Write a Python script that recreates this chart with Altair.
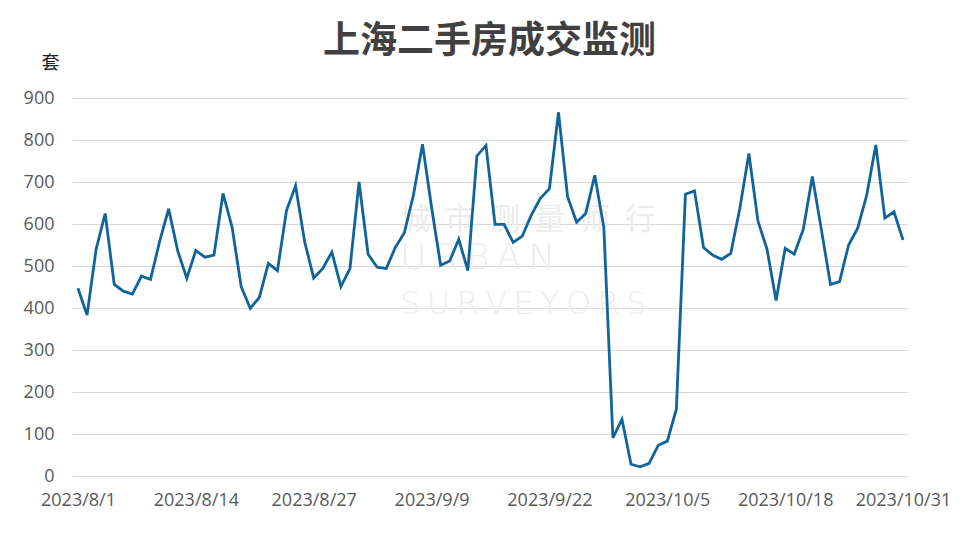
import altair as alt
import pandas as pd

# daily transactions, 2023/8/1 .. 2023/10/31
values = [447, 383, 540, 625, 456, 440, 433, 476, 468, 558,
          636, 536, 471, 537, 521, 526, 673, 592, 451, 399,
          425, 506, 489, 632, 691, 558, 471, 494, 533, 451,
          494, 700, 528, 497, 494, 544, 579, 669, 790, 640,
          502, 512, 564, 489, 762, 787, 599, 599, 556, 571,
          621, 661, 684, 866, 665, 604, 625, 716, 592, 91,
          135, 28, 22, 30, 73, 83, 159, 671, 679, 544,
          526, 516, 530, 637, 768, 607, 540, 418, 542, 528,
          587, 713, 586, 456, 463, 550, 590, 669, 788, 614,
          629, 562]
dates = [f"{d.year}/{d.month}/{d.day}" for d in pd.date_range("2023-08-01", "2023-10-31")]
tick_idx = [0, 13, 26, 39, 52, 65, 78, 91]
tick_labels = ["2023/8/1", "2023/8/14", "2023/8/27", "2023/9/9",
               "2023/9/22", "2023/10/5", "2023/10/18", "2023/10/31"]
y_ticks = [0, 100, 200, 300, 400, 500, 600, 700, 800, 900]

df = pd.DataFrame({"i": list(range(len(values))), "date": dates, "v": values})

label_arr = "[" + ",".join(f"'{t}'" for t in tick_labels) + "]"

FONT = "Open Sans"
W, H = 835, 378

line = alt.Chart(df).mark_line(color="#10649a", strokeWidth=2.8).encode(
    x=alt.X("i:Q",
            scale=alt.Scale(domain=[-0.66, 91.44], nice=False, zero=False),
            axis=alt.Axis(values=tick_idx, labelExpr=f"{label_arr}[round(datum.value/13)]",
                          grid=False, domain=False, ticks=False, labelFlush=False,
                          labelOverlap=False, labelFontSize=18, labelColor="#595959",
                          labelFont=FONT, labelPadding=15, title=None)),
    y=alt.Y("v:Q",
            scale=alt.Scale(domain=[0, 900], nice=False),
            axis=alt.Axis(values=y_ticks, grid=True, gridColor="#d9d9d9", gridWidth=1,
                          domain=False, ticks=False, labelFontSize=18, labelColor="#595959",
                          labelFont=FONT, labelPadding=18,
                          title="套", titleAngle=0, titleFont="Noto Sans CJK SC",
                          titleFontSize=18, titleFontWeight="normal", titleColor="#222222",
                          titleX=-22, titleY=-35, titleAlign="center", titleBaseline="middle")),
)

sp = "\u2002"
th = "\u2009"
wm_cn = alt.Chart(pd.DataFrame({"t": [sp.join("城市测量师行")]})).mark_text(
    font="Noto Sans CJK SC", fontSize=30, color="#ececec", align="left", baseline="middle"
).encode(text="t:N", x=alt.value(328), y=alt.value(122))
wm_en1 = alt.Chart(pd.DataFrame({"t": [th.join("URBAN")]})).mark_text(
    font="DejaVu Sans", fontSize=36, color="#ececec", align="left", baseline="middle",
    fontWeight="lighter"
).encode(text="t:N", x=alt.value(328), y=alt.value(160))
wm_en2 = alt.Chart(pd.DataFrame({"t": [th.join("SURVEYORS")]})).mark_text(
    font="DejaVu Sans", fontSize=32, color="#ececec", align="left", baseline="middle",
    fontWeight="lighter"
).encode(text="t:N", x=alt.value(328), y=alt.value(206))

chart = alt.layer(wm_cn, wm_en1, wm_en2, line).properties(
    width=W, height=H,
    autosize=alt.AutoSizeParams(type="none"),
    padding={"left": 64, "top": 90, "right": 60, "bottom": 52},
    title=alt.TitleParams("上海二手房成交监测", font="Noto Sans CJK SC", fontSize=37,
                          fontWeight="bold", color="#404040", anchor="middle", offset=-7),
).configure(background="white").configure_view(stroke=None)

chart.save("out.html", embed_options={"renderer": "svg", "actions": False})
